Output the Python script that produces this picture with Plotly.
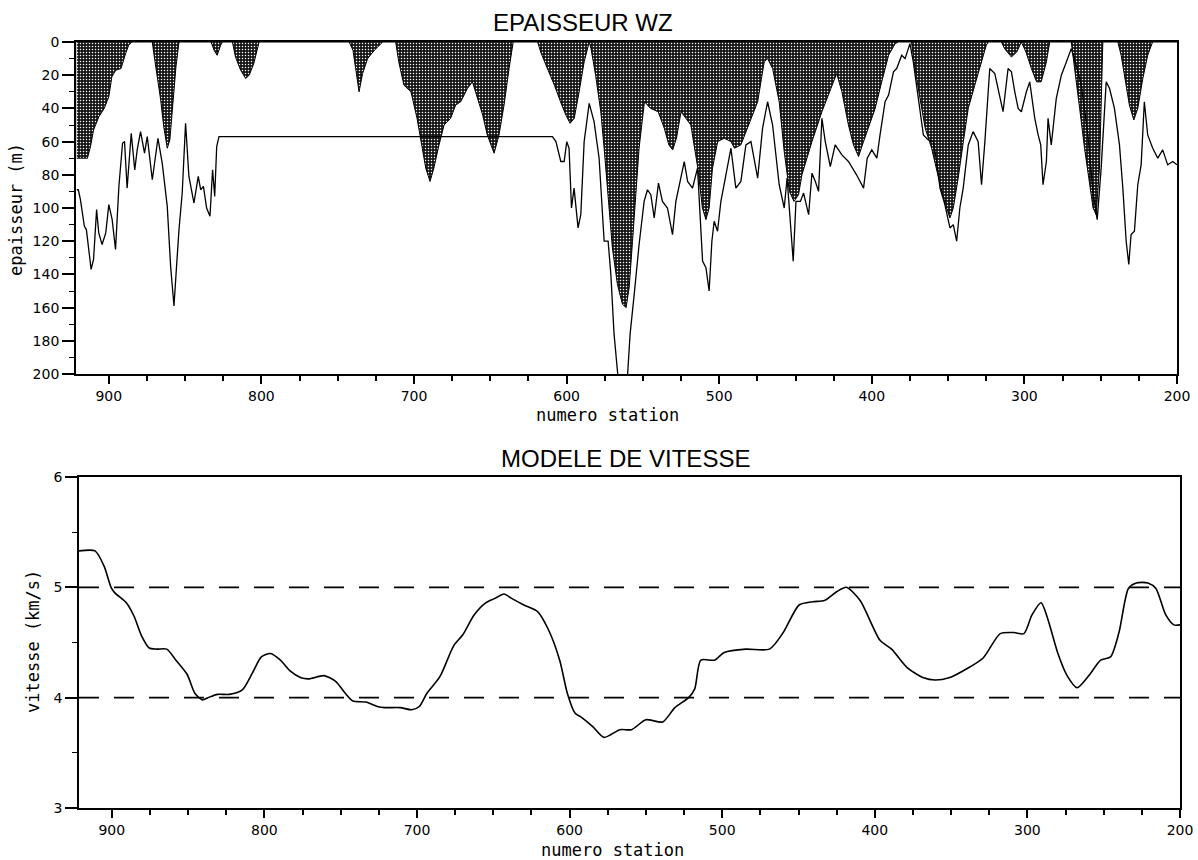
import plotly.graph_objects as go

# ---------------- data ----------------
# Shaded thickness (upper curve, filled to 0)
shade_station = [921, 914, 912, 910, 906.5, 903, 900, 898, 895.5, 892, 889, 887, 885,
                 871.5, 870.5, 868, 866, 864, 861.7, 860, 858.4, 856, 854,
                 833, 831, 829, 826.7, 825.5, 819, 817, 813.6, 810.3, 808, 805, 801.5,
                 742.5, 740, 738, 736, 733.7, 730.4, 726, 720.5,
                 712, 710, 706.6, 702, 698, 694.5, 692.3, 689.5, 687, 683.6, 680.3, 676,
                 672.7, 669.4, 665, 661.7, 658.5, 655, 652, 647.5, 644.3, 641, 637.7, 635,
                 619, 617, 612.6, 608, 604, 600.5, 597.7, 595, 591.8, 588.5, 585.2, 584,
                 581, 577.6, 575.4, 573, 570, 566.7, 563.4, 561, 559, 556.8, 554.6, 552.5,
                 549, 545, 540, 536, 533, 530.5, 528, 525, 518.6, 514, 511, 508.7, 506.6,
                 504.4, 501, 496.7, 492.3, 490, 485.8, 481.4, 474.8, 470.5, 468.3, 465,
                 460.7, 457.4, 454, 451, 448, 445.8, 439.2, 432.7, 426, 423, 419.6, 415.3,
                 412, 408.7, 405.4, 402.2, 397.8, 393.5, 389, 384.7, 382.6,
                 374, 371.7, 368.4, 365, 360.8, 357.5, 354.2, 351, 348.8, 346.6, 343.4,
                 340, 336.8, 332.5, 328, 325, 323.7,
                 315, 313, 308.5, 305, 302, 299, 295.4, 292, 289, 285.6, 283.4,
                 269.3, 267, 263.8, 260.6, 257.3, 255, 253, 250.8, 248.6,
                 238.8, 236.6, 233.3, 231.2, 228.3, 225.7, 222.4, 219.2, 216, 200]
shade_depth = [70, 70, 63, 53, 45, 40, 33, 21, 17, 16, 7, 2, 0,
               0, 7, 21, 35, 51, 64, 59, 41, 15, 0,
               0, 5, 8, 2, 0, 0, 9, 17, 22, 20, 13, 0,
               0, 5, 19, 30, 19, 10, 5, 0,
               0, 12, 26, 30, 46, 64, 76, 84, 76, 62, 50, 46,
               38, 36, 28, 24, 34, 44, 56, 67, 56, 38, 16, 0,
               0, 6, 16, 26, 36, 44, 49, 46, 30, 12, 0, 4,
               20, 42, 64, 92, 124, 146, 158, 160, 148, 120, 88, 64,
               36, 40, 42, 52, 62, 65, 58, 42, 50, 76, 100, 107, 100,
               76, 60, 58, 60, 64, 62, 52, 36, 12, 10, 16,
               36, 66, 90, 96, 92, 80, 60, 42, 26, 19, 30, 50,
               62, 69, 60, 52, 40, 24, 8, 1, 0,
               0, 16, 34, 52, 64, 78, 90, 100, 106, 100, 82,
               60, 40, 26, 12, 2, 0,
               0, 4, 9, 6, 0, 6, 16, 24, 24, 12, 0,
               0, 16, 40, 64, 86, 100, 104, 76, 0,
               0, 8, 26, 38, 47, 40, 22, 8, 0, 0]

# Deeper thickness line
line_station = [921, 920, 918.6, 916, 914.7, 913, 911.6, 910, 908, 906.6, 904.4, 902, 900,
                897.8, 895.6, 893.4, 891, 889.7, 888, 885.3, 883, 881.4, 879.2, 876.6,
                874.8, 871.5, 867.8, 865, 861.7, 859.5, 858.4, 857.3, 855.6, 854, 851.9,
                849.7, 847.5, 844.2, 841.4, 839.8, 838, 835.9, 833.7, 832, 830.6, 829.3,
                827.8, 609.3, 607, 603.8, 601.6, 599.9, 598.4, 596.8, 595.1, 592.5, 590.7,
                588.5, 585.2, 582, 578.7, 575.4, 572.8, 571, 568.9, 566.7, 565, 561, 560,
                558.4, 555.7, 552.5, 549.2, 547, 544.8, 542.6, 539.8, 537.2, 533.9, 530.6,
                528.4, 525.1, 522.9, 520.7, 517.5, 514.2, 510.9, 508.7, 506.6, 504.8,
                503.3, 501.1, 498.9, 495.6, 492.3, 489.1, 485.8, 482.5, 479.2, 474.8,
                471.6, 468.3, 465, 460.7, 457.4, 455.5, 453.4, 451.5, 449.7, 446.8, 444.7,
                441.4, 439.2, 437, 434.9, 432.7, 430.5, 427.2, 424, 419.6, 415.3, 410,
                405.4, 403, 400, 396.7, 394.6, 391.3, 389, 385.8, 383.7, 380.4, 378.2, 375,
                372.8, 369.5, 366.2, 363, 359.7, 357.5, 355.3, 352.1, 348.8, 346.6, 344.4,
                342.3, 340.1, 336.8, 333.6, 330.3, 328.1, 325.9, 322.7, 319.4, 316.1, 314,
                310.7, 308.5, 306.3, 304.1, 302, 298.7, 296.5, 293.2, 291, 289.3, 287.8,
                285.6, 284.5, 282.4, 279.1, 275.8, 272.5, 269.3, 266, 262.7, 258.4, 255.1,
                252.3, 249.7, 246.4, 244.2, 241, 237.7, 235.5, 233.3, 231.6, 230.1, 227.9,
                225.7, 223.5, 221.4, 219.2, 215.9, 212.6, 209.4, 206.1, 202.8, 200]
line_depth = [89, 89, 95, 111, 113, 127, 137, 131, 101, 115, 122, 115, 98,
              107, 125, 87, 61, 60, 88, 55, 77, 65, 54, 67,
              57, 83, 58, 73, 99, 135, 147, 159, 135, 113, 91,
              49, 81, 97, 81, 89, 87, 100, 105, 77, 93, 63,
              57, 57, 60, 72, 72, 60, 64, 100, 88, 112, 104,
              60, 37, 48, 70, 120, 120, 140, 176, 200, 215, 215, 200,
              176, 152, 122, 96, 89, 92, 106, 85, 96, 100, 116,
              96, 82, 72, 84, 88, 76, 132, 136, 150, 120,
              108, 114, 96, 80, 64, 88, 84, 62, 60, 82,
              52, 36, 50, 86, 100, 82, 106, 132, 96, 96, 91,
              104, 79, 84, 90, 46, 60, 75, 62, 68, 72, 80,
              88, 70, 65, 70, 56, 36, 32, 18, 16, 8, 10, 1,
              12, 34, 56, 59, 60, 72, 88, 98, 112, 110, 120,
              100, 88, 62, 54, 60, 86, 60, 16, 19, 34, 42,
              16, 18, 30, 40, 42, 30, 24, 46, 56, 62, 86,
              72, 46, 62, 34, 20, 12, 4, 14, 26, 56, 90,
              107, 76, 24, 28, 40, 62, 88, 120, 134, 116, 114,
              86, 74, 36, 56, 64, 70, 65, 74, 72, 74]

# Velocity model
vel_station = [921.5, 911, 905, 900.5, 898, 890.5, 885.5, 880.5, 875.5, 870.6, 864, 858,
               850.6, 845.6, 840.6, 837, 830.7, 823, 814.5, 808, 802, 796, 789.5, 783,
               776, 771, 761, 753.5, 747, 742, 733.5, 726, 721, 711, 703.5, 698.5, 693.5,
               685, 676, 670, 662.6, 655, 649, 643, 638, 630, 621, 614, 606.5, 601.5,
               596.5, 592, 585, 577.5, 567, 559.4, 550, 539, 531, 522, 518, 514, 505,
               498.7, 484.5, 469, 460, 449.6, 440.6, 433, 425, 418.6, 409.6, 396.6, 389,
               378.6, 368, 360.5, 351.4, 340, 329, 317.8, 308.8, 302.3, 297, 291, 286.8,
               280, 274, 267.4, 259.7, 252, 245.5, 240, 233.8, 228.7, 221, 215.8, 209.3,
               204, 200]
vel_value = [5.33, 5.33, 5.19, 5.0, 4.95, 4.86, 4.74, 4.56, 4.45, 4.44, 4.44, 4.34,
             4.21, 4.04, 3.98, 4.0, 4.03, 4.03, 4.07, 4.22, 4.37, 4.40, 4.34, 4.24,
             4.18, 4.17, 4.20, 4.15, 4.04, 3.97, 3.96, 3.92, 3.91, 3.91, 3.89, 3.92, 4.04,
             4.19, 4.47, 4.57, 4.75, 4.86, 4.90, 4.94, 4.90, 4.84, 4.78, 4.62, 4.34, 4.04,
             3.86, 3.82, 3.74, 3.64, 3.71, 3.71, 3.80, 3.78, 3.91, 4.0, 4.08, 4.34, 4.34,
             4.41, 4.44, 4.44, 4.59, 4.84, 4.87, 4.88, 4.96, 5.0, 4.88, 4.52, 4.44,
             4.27, 4.18, 4.16, 4.18, 4.26, 4.36, 4.58, 4.59, 4.58, 4.75, 4.86, 4.72,
             4.40, 4.20, 4.09, 4.20, 4.34, 4.37, 4.59, 4.99, 5.04, 5.04, 4.99, 4.75,
             4.66, 4.66]

ref_levels = [4, 5]
x_range = [921.5, 200]
x_ticks = [900, 800, 700, 600, 500, 400, 300, 200]
depth_ticks = [0, 20, 40, 60, 80, 100, 120, 140, 160, 180, 200]
vel_ticks = [3, 4, 5, 6]

# ---------------- figure ----------------
fig = go.Figure()

fig.add_trace(go.Scatter(
    x=shade_station, y=shade_depth, mode="lines", fill="tozeroy",
    line=dict(color="black", width=1),
    fillcolor="#151515",
    fillpattern=dict(shape=".", bgcolor="#151515", fgcolor="white",
                     size=3, solidity=0.2, fillmode="replace"),
    xaxis="x", yaxis="y", showlegend=False, hoverinfo="skip"))

fig.add_trace(go.Scatter(
    x=line_station, y=line_depth, mode="lines",
    line=dict(color="black", width=1.3),
    xaxis="x", yaxis="y", showlegend=False, cliponaxis=True))

for lv in ref_levels:
    fig.add_trace(go.Scatter(
        x=x_range, y=[lv, lv], mode="lines",
        line=dict(color="black", width=1.6, dash="20px,15px"),
        xaxis="x2", yaxis="y2", showlegend=False))

fig.add_trace(go.Scatter(
    x=vel_station, y=vel_value, mode="lines",
    line=dict(color="black", width=1.6, shape="spline", smoothing=0.7),
    xaxis="x2", yaxis="y2", showlegend=False))

W, H = 1198, 860
ml, mr, mt, mb = 76, 18, 42, 52
pw, ph = W - ml - mr, H - mt - mb


def px(x):
    return (x - ml) / pw


def py(y):
    return (H - mb - y) / ph


tickfont = dict(family="DejaVu Sans", size=14, color="black")
axis_common = dict(showline=True, linecolor="black", linewidth=1.8, mirror=True,
                   showgrid=False, zeroline=False, ticks="outside", tickcolor="black",
                   tickwidth=1.5, tickfont=tickfont, automargin=False)

fig.update_layout(
    width=W, height=H, paper_bgcolor="white", plot_bgcolor="white",
    margin=dict(l=ml, r=mr, t=mt, b=mb, autoexpand=False),
    xaxis=dict(domain=[px(76), px(1177)], range=x_range, anchor="y",
               tickvals=x_ticks, ticklen=8,
               minor=dict(dtick=25, ticklen=5, ticks="outside", tickcolor="black",
                          tickwidth=1.5),
               **axis_common),
    yaxis=dict(domain=[py(374), py(42)], range=[200, 0], anchor="x",
               tickvals=depth_ticks, ticklen=12,
               minor=dict(dtick=10, ticklen=5, ticks="outside", tickcolor="black",
                          tickwidth=1.2),
               **axis_common),
    xaxis2=dict(domain=[px(79), px(1180)], range=x_range, anchor="y2",
                tickvals=x_ticks, ticklen=8,
                minor=dict(dtick=25, ticklen=5, ticks="outside", tickcolor="black",
                           tickwidth=1.5),
                **axis_common),
    yaxis2=dict(domain=[py(808), py(477)], range=[3, 6], anchor="x2",
                tickvals=vel_ticks, ticklen=12,
                minor=dict(dtick=0.5, ticklen=5, ticks="outside", tickcolor="black",
                           tickwidth=1.2),
                **axis_common),
)

title_font = dict(family="Liberation Sans", size=24, color="black")
label_font = dict(family="DejaVu Sans Mono", size=17, color="black")

ann = [
    dict(text="EPAISSEUR WZ", x=px(583), y=py(23), font=title_font),
    dict(text="MODELE DE VITESSE", x=px(625), y=py(458), font=title_font),
    dict(text="numero station", x=px(607), y=py(415), font=label_font),
    dict(text="numero station", x=px(612), y=py(850), font=label_font),
    dict(text="epaisseur (m)", x=px(16), y=py(210), font=label_font, textangle=-90),
    dict(text="vitesse (km/s)", x=px(33), y=py(642), font=label_font, textangle=-90),
]
for a in ann:
    fig.add_annotation(xref="paper", yref="paper", showarrow=False,
                       xanchor="center", yanchor="middle", **a)

fig.write_html(
    "out.html",
    config={"displayModeBar": False},
    post_script="document.body.style.margin='0';document.body.style.padding='0';"
                "document.body.style.overflow='hidden';",
)
